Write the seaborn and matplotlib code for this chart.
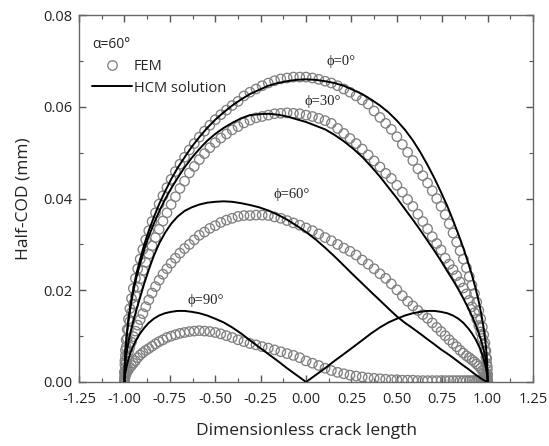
import pandas as pd
import matplotlib.pyplot as plt
import seaborn as sns
from matplotlib.lines import Line2D
from matplotlib.ticker import MultipleLocator, FormatStrFormatter

sns.set_theme(style="ticks")
plt.rcParams['font.family'] = ['Open Sans', 'DejaVu Sans']

# FEM nodes (same mesh for every angle)
x_fem = [-1.0000, -0.9994, -0.9976, -0.9945, -0.9903, -0.9848, -0.9781, -0.9703, -0.9613, -0.9511,
         -0.9397, -0.9272, -0.9135, -0.8988, -0.8829, -0.8660, -0.8480, -0.8290, -0.8090, -0.7880,
         -0.7660, -0.7431, -0.7193, -0.6947, -0.6691, -0.6428, -0.6157, -0.5878, -0.5592, -0.5299,
         -0.5000, -0.4695, -0.4384, -0.4067, -0.3746, -0.3420, -0.3090, -0.2756, -0.2419, -0.2079,
         -0.1736, -0.1392, -0.1045, -0.0698, -0.0349, 0.0,
         0.0349, 0.0698, 0.1045, 0.1392, 0.1736, 0.2079, 0.2419, 0.2756, 0.3090, 0.3420,
         0.3746, 0.4067, 0.4384, 0.4695, 0.5000, 0.5299, 0.5592, 0.5878, 0.6157, 0.6428,
         0.6691, 0.6947, 0.7193, 0.7431, 0.7660, 0.7880, 0.8090, 0.8290, 0.8480, 0.8660,
         0.8829, 0.8988, 0.9135, 0.9272, 0.9397, 0.9511, 0.9613, 0.9703, 0.9781, 0.9848,
         0.9903, 0.9945, 0.9976, 0.9994, 1.0000]

fem_0 = [0, 0.0023, 0.0046, 0.0069, 0.0092, 0.0115, 0.0137, 0.0160, 0.0182, 0.0204,
         0.0226, 0.0247, 0.0268, 0.0289, 0.0310, 0.0330, 0.0350, 0.0369, 0.0388, 0.0406,
         0.0424, 0.0442, 0.0459, 0.0475, 0.0490, 0.0506, 0.0520, 0.0534, 0.0547, 0.0560,
         0.0572, 0.0583, 0.0593, 0.0603, 0.0612, 0.0624, 0.0632, 0.0639, 0.0646, 0.0652,
         0.0657, 0.0661, 0.0663, 0.0665, 0.0665, 0.0665,
         0.0663, 0.0660, 0.0656, 0.0652, 0.0646, 0.0639, 0.0632, 0.0624, 0.0615, 0.0606,
         0.0591, 0.0577, 0.0564, 0.0551, 0.0535, 0.0518, 0.0501, 0.0483, 0.0465, 0.0450,
         0.0434, 0.0417, 0.0400, 0.0383, 0.0365, 0.0345, 0.0325, 0.0305, 0.0286, 0.0268,
         0.0249, 0.0230, 0.0211, 0.0193, 0.0174, 0.0156, 0.0138, 0.0120, 0.0103, 0.0085,
         0.0068, 0.0051, 0.0034, 0.0017, 0]

fem_30 = [0, 0.0019, 0.0038, 0.0057, 0.0076, 0.0095, 0.0114, 0.0132, 0.0151, 0.0170,
          0.0188, 0.0207, 0.0225, 0.0243, 0.0261, 0.0279, 0.0297, 0.0315, 0.0333, 0.0351,
          0.0369, 0.0387, 0.0404, 0.0422, 0.0438, 0.0456, 0.0470, 0.0485, 0.0498, 0.0511,
          0.0522, 0.0532, 0.0541, 0.0550, 0.0557, 0.0565, 0.0571, 0.0576, 0.0579, 0.0582,
          0.0585, 0.0586, 0.0587, 0.0586, 0.0585, 0.0582,
          0.0579, 0.0575, 0.0570, 0.0564, 0.0553, 0.0542, 0.0531, 0.0520, 0.0508, 0.0495,
          0.0482, 0.0469, 0.0455, 0.0444, 0.0429, 0.0414, 0.0398, 0.0383, 0.0366, 0.0350,
          0.0334, 0.0317, 0.0302, 0.0288, 0.0270, 0.0257, 0.0245, 0.0232, 0.0218, 0.0205,
          0.0192, 0.0178, 0.0164, 0.0151, 0.0137, 0.0123, 0.0109, 0.0095, 0.0081, 0.0068,
          0.0054, 0.0040, 0.0027, 0.0013, 0]

fem_60 = [0, 0.0011, 0.0021, 0.0032, 0.0043, 0.0054, 0.0065, 0.0076, 0.0087, 0.0099,
          0.0111, 0.0124, 0.0136, 0.0149, 0.0164, 0.0179, 0.0194, 0.0208, 0.0222, 0.0235,
          0.0247, 0.0259, 0.0270, 0.0281, 0.0291, 0.0300, 0.0310, 0.0320, 0.0327, 0.0335,
          0.0341, 0.0348, 0.0353, 0.0357, 0.0361, 0.0363, 0.0363, 0.0364, 0.0364, 0.0363,
          0.0360, 0.0357, 0.0352, 0.0347, 0.0342, 0.0336,
          0.0330, 0.0323, 0.0315, 0.0308, 0.0300, 0.0292, 0.0285, 0.0277, 0.0266, 0.0257,
          0.0247, 0.0236, 0.0226, 0.0214, 0.0201, 0.0188, 0.0176, 0.0166, 0.0156, 0.0147,
          0.0139, 0.0129, 0.0119, 0.0110, 0.0101, 0.0092, 0.0084, 0.0077, 0.0069, 0.0063,
          0.0057, 0.0053, 0.0048, 0.0044, 0.0039, 0.0035, 0.0030, 0.0025, 0.0021, 0.0016,
          0.0013, 0.0009, 0.0006, 0.0003, 0]

fem_90 = [0, 0.0005, 0.0009, 0.0014, 0.0018, 0.0023, 0.0027, 0.0032, 0.0036, 0.0041,
          0.0046, 0.0053, 0.0059, 0.0064, 0.0069, 0.0073, 0.0078, 0.0083, 0.0088, 0.0092,
          0.0097, 0.0100, 0.0103, 0.0106, 0.0108, 0.0110, 0.0111, 0.0112, 0.0111, 0.0110,
          0.0108, 0.0105, 0.0101, 0.0097, 0.0092, 0.0088, 0.0084, 0.0081, 0.0077, 0.0074,
          0.0070, 0.0066, 0.0062, 0.0058, 0.0053, 0.0046,
          0.0041, 0.0036, 0.0030, 0.0025, 0.0021, 0.0018, 0.0015, 0.0013, 0.0011, 0.0009,
          0.0008, 0.0007, 0.0006, 0.0005, 0.0005, 0.0004, 0.0004, 0.0004, 0.0003, 0.0003,
          0.0003, 0.0003, 0.0003, 0.0003, 0.0003, 0.0003, 0.0003, 0.0003, 0.0003, 0.0003,
          0.0003, 0.0003, 0.0003, 0.0003, 0.0003, 0.0003, 0.0003, 0.0002, 0.0002, 0.0002,
          0.0002, 0.0002, 0.0001, 0.0001, 0]

# HCM analytical solution
x_hcm = [-1.0, -0.9986, -0.9945, -0.9877, -0.9781, -0.9659, -0.9511, -0.9336, -0.9135, -0.8910,
         -0.8660, -0.8387, -0.8090, -0.7771, -0.7431, -0.7071, -0.6691, -0.6293, -0.5878, -0.5446,
         -0.5000, -0.4540, -0.4067, -0.3584, -0.3090, -0.2588, -0.2079, -0.1564, -0.1045, -0.0523,
         0.0,
         0.0523, 0.1045, 0.1564, 0.2079, 0.2588, 0.3090, 0.3584, 0.4067, 0.4540, 0.5000,
         0.5446, 0.5878, 0.6293, 0.6691, 0.7071, 0.7431, 0.7771, 0.8090, 0.8387, 0.8660,
         0.8910, 0.9135, 0.9336, 0.9511, 0.9659, 0.9781, 0.9877, 0.9945, 0.9986, 1.0]

hcm_0 = [0, 0.0035, 0.0069, 0.0103, 0.0137, 0.0171, 0.0204, 0.0237, 0.0268, 0.0300,
         0.0330, 0.0359, 0.0388, 0.0415, 0.0442, 0.0467, 0.0490, 0.0513, 0.0534, 0.0554,
         0.0572, 0.0588, 0.0603, 0.0616, 0.0628, 0.0637, 0.0646, 0.0652, 0.0656, 0.0659,
         0.0660,
         0.0659, 0.0656, 0.0652, 0.0646, 0.0637, 0.0628, 0.0616, 0.0603, 0.0588, 0.0570,
         0.0550, 0.0527, 0.0501, 0.0473, 0.0444, 0.0414, 0.0384, 0.0353, 0.0322, 0.0292,
         0.0262, 0.0233, 0.0204, 0.0175, 0.0146, 0.0117, 0.0088, 0.0059, 0.0029, 0]

hcm_30 = [0, 0.0033, 0.0067, 0.0100, 0.0133, 0.0166, 0.0198, 0.0229, 0.0259, 0.0289,
          0.0318, 0.0345, 0.0372, 0.0398, 0.0422, 0.0445, 0.0468, 0.0489, 0.0508, 0.0526,
          0.0541, 0.0554, 0.0565, 0.0575, 0.0582, 0.0584, 0.0585, 0.0583, 0.0579, 0.0573,
          0.0567,
          0.0559, 0.0551, 0.0539, 0.0525, 0.0509, 0.0491, 0.0470, 0.0448, 0.0424, 0.0401,
          0.0377, 0.0354, 0.0331, 0.0308, 0.0286, 0.0264, 0.0242, 0.0222, 0.0202, 0.0182,
          0.0163, 0.0144, 0.0125, 0.0106, 0.0088, 0.0070, 0.0052, 0.0035, 0.0017, 0]

hcm_60 = [0, 0.0022, 0.0043, 0.0064, 0.0087, 0.0110, 0.0133, 0.0158, 0.0185, 0.0215,
          0.0245, 0.0275, 0.0302, 0.0325, 0.0345, 0.0361, 0.0373, 0.0381, 0.0387, 0.0391,
          0.0393, 0.0394, 0.0393, 0.0390, 0.0386, 0.0381, 0.0374, 0.0365, 0.0354, 0.0341,
          0.0327,
          0.0311, 0.0293, 0.0274, 0.0254, 0.0234, 0.0215, 0.0196, 0.0178, 0.0160, 0.0143,
          0.0129, 0.0117, 0.0105, 0.0093, 0.0082, 0.0071, 0.0062, 0.0053, 0.0044, 0.0036,
          0.0029, 0.0022, 0.0016, 0.0011, 0.0007, 0.0004, 0.0002, 0.0001, 0.0, 0]

hcm_90 = [0, 0.0011, 0.0021, 0.0035, 0.0050, 0.0065, 0.0079, 0.0093, 0.0106, 0.0118,
          0.0129, 0.0138, 0.0145, 0.0150, 0.0153, 0.0155, 0.0155, 0.0153, 0.0150, 0.0145,
          0.0138, 0.0130, 0.0119, 0.0106, 0.0091, 0.0076, 0.0061, 0.0046, 0.0030, 0.0015,
          0,
          0.0015, 0.0030, 0.0046, 0.0061, 0.0076, 0.0091, 0.0106, 0.0119, 0.0130, 0.0138,
          0.0145, 0.0150, 0.0153, 0.0155, 0.0155, 0.0153, 0.0150, 0.0145, 0.0138, 0.0129,
          0.0118, 0.0106, 0.0093, 0.0079, 0.0065, 0.0050, 0.0035, 0.0021, 0.0011, 0]

angles = ['0', '30', '60', '90']
fem_series = [fem_0, fem_30, fem_60, fem_90]
hcm_series = [hcm_0, hcm_30, hcm_60, hcm_90]

df_fem = pd.concat([pd.DataFrame({'x': x_fem, 'y': y, 'phi': a}) for a, y in zip(angles, fem_series)])
df_hcm = pd.concat([pd.DataFrame({'x': x_hcm, 'y': y, 'phi': a}) for a, y in zip(angles, hcm_series)])

# etiquetas de ángulo (posición en coordenadas de datos)
label_pos = {'0': (0.19, 0.0699), '30': (0.09, 0.0611), '60': (-0.08, 0.0408), '90': (-0.55, 0.0177)}

fig, ax = plt.subplots(figsize=(5.49, 4.46), dpi=100)
fig.subplots_adjust(left=0.144, right=0.971, bottom=0.1435, top=0.966)

grey = '#808080'
for a in angles:
    sub = df_fem[df_fem['phi'] == a]
    sns.scatterplot(data=sub, x='x', y='y', ax=ax, marker='o', s=46,
                    facecolors='none', edgecolor=grey, linewidth=0.95, legend=False, zorder=2)
for a in angles:
    sub = df_hcm[df_hcm['phi'] == a]
    sns.lineplot(data=sub, x='x', y='y', ax=ax, color='black', linewidth=1.4,
                 estimator=None, sort=False, legend=False, zorder=3)

for a in angles:
    lx, ly = label_pos[a]
    ax.text(lx, ly, 'ϕ=' + a + '°', ha='center', va='center', fontsize=10.5,
            family=['Liberation Serif', 'DejaVu Serif'], color='#222222')

ax.set_xlim(-1.25, 1.25)
ax.set_ylim(0, 0.08)
ax.xaxis.set_major_locator(MultipleLocator(0.25))
ax.xaxis.set_minor_locator(MultipleLocator(0.125))
ax.yaxis.set_major_locator(MultipleLocator(0.02))
ax.yaxis.set_minor_locator(MultipleLocator(0.01))
ax.xaxis.set_major_formatter(FormatStrFormatter('%.2f'))
ax.yaxis.set_major_formatter(FormatStrFormatter('%.2f'))
ax.tick_params(which='both', direction='in', top=True, right=True, color='#555555',
               labelsize=10.5, labelcolor='#222222')
ax.tick_params(axis='x', which='major', pad=7)
ax.tick_params(axis='y', which='major', pad=5)
ax.tick_params(which='major', length=5, width=1)
ax.tick_params(which='minor', length=3, width=0.8)
for sp in ax.spines.values():
    sp.set_color('#666666')
    sp.set_linewidth(1.0)

ax.set_xlabel('Dimensionless crack length', fontsize=12.5, labelpad=12, color='#222222')
ax.set_ylabel('Half-COD (mm)', fontsize=12.5, labelpad=8, color='#222222')

handles = [Line2D([], [], linestyle='none', marker='o', markersize=6.8, markerfacecolor='none',
                  markeredgecolor=grey, markeredgewidth=0.95),
           Line2D([], [], color='black', linewidth=1.4)]
leg = ax.legend(handles, ['FEM', 'HCM solution'], title='α=60°', loc='upper left',
                bbox_to_anchor=(0.0, 0.975), frameon=False, alignment='left',
                handlelength=2.7, handletextpad=0.15, labelspacing=0.45,
                fontsize=10.5, title_fontsize=10, borderaxespad=0.5)

plt.savefig('out.png', dpi=100)
plt.close()
